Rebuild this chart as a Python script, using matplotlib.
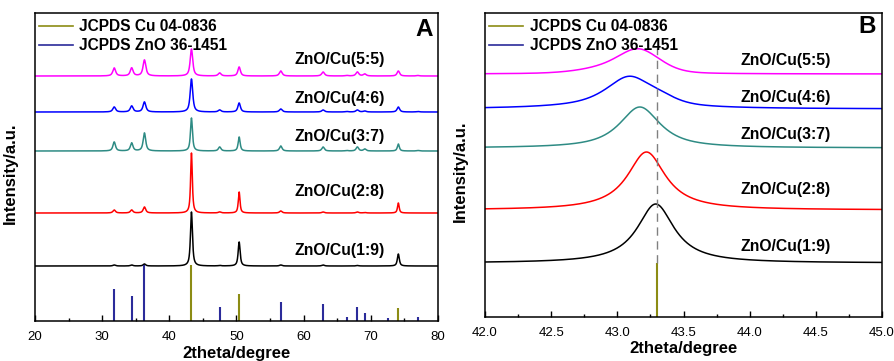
import numpy as np
import matplotlib
matplotlib.use("Agg")
import matplotlib.pyplot as plt
from matplotlib.lines import Line2D
from matplotlib.ticker import MultipleLocator

plt.rcParams['font.family'] = ['Liberation Sans', 'DejaVu Sans']

# ---------------- data ----------------
samples = ["ZnO/Cu(1:9)", "ZnO/Cu(2:8)", "ZnO/Cu(3:7)", "ZnO/Cu(4:6)", "ZnO/Cu(5:5)"]
colors = ["#000000", "#ff0000", "#2e8b84", "#0000ff", "#ff00ff"]

# Panel A: vertical offsets (a.u.)
offsets_a = [55, 108, 170, 209, 245]
# Reflection positions (2theta)
cu_pos = [43.3, 50.4, 74.1]
zno_pos = [31.8, 34.4, 36.3, 47.5, 56.6, 62.9, 66.4, 68.0, 69.1, 72.6, 77.0]
# Reference stick heights (JCPDS)
cu_ref = [56, 27, 13]
zno_ref = [32, 25, 56, 14, 19, 17, 4, 14, 8, 3, 4]
# Measured peak heights per sample (Cu peaks, ZnO peaks)
cu_peak_1_9 = [54, 24, 12]
cu_peak_2_8 = [60, 21, 10]
cu_peak_3_7 = [33, 14, 7]
cu_peak_4_6 = [33, 9, 5]
cu_peak_5_5 = [27, 9, 5]
zno_peak_1_9 = [1, 1, 2, 0.5, 1, 1, 0, 0.5, 0, 0, 0]
zno_peak_2_8 = [3, 3, 6, 1, 2, 1, 0, 1, 0.5, 0, 0]
zno_peak_3_7 = [9, 8, 18, 4, 5, 4, 0.5, 4, 2, 0, 0.5]
zno_peak_4_6 = [5, 6, 10, 2, 3, 2, 0.5, 2, 1, 0, 0.5]
zno_peak_5_5 = [8, 8, 16, 3, 5, 4, 0.5, 4, 2, 0, 0.5]
cu_peaks = [cu_peak_1_9, cu_peak_2_8, cu_peak_3_7, cu_peak_4_6, cu_peak_5_5]
zno_peaks = [zno_peak_1_9, zno_peak_2_8, zno_peak_3_7, zno_peak_4_6, zno_peak_5_5]
cu_fwhm = [0.35, 0.3, 0.35, 0.45, 0.45]
zno_fwhm = [0.45, 0.45, 0.45, 0.5, 0.5]

# Panel B: Cu(111) region
offsets_b = [54, 107, 169, 208, 243]
# components: (center, height, fwhm, lorentz fraction)
comp_1_9 = [(43.29, 59, 0.34, 1.0)]
comp_2_8 = [(43.22, 58, 0.35, 1.0)]
comp_3_7 = [(43.17, 41, 0.37, 0.9)]
comp_4_6 = [(43.09, 28, 0.40, 0.7), (42.95, 4, 0.9, 1.0), (43.33, 5, 0.3, 0.5)]
comp_5_5 = [(43.16, 24, 0.38, 0.3), (42.85, 4, 0.45, 0.5)]
comps_b = [comp_1_9, comp_2_8, comp_3_7, comp_4_6, comp_5_5]
cu111_pos = 43.3
cu111_ref = 54
dash_top = 269


def pv(x, c, h, w, eta):
    g = np.exp(-4 * np.log(2) * (x - c) ** 2 / w ** 2)
    l = 1.0 / (1 + (2 * (x - c) / w) ** 2)
    return h * (eta * l + (1 - eta) * g)


fig = plt.figure(figsize=(8.94, 3.61), dpi=100)
axA = fig.add_axes([0.0391, 0.1108, 0.4508, 0.8532])
axB = fig.add_axes([0.5425, 0.1219, 0.4441, 0.8421])

cu_col = "#8c8c14"
zno_col = "#2b2b9a"
bold = dict(fontweight="bold")

# ---- Panel A ----
xa = np.linspace(20, 80, 6000)
for i in range(5):
    y = np.full_like(xa, offsets_a[i], dtype=float)
    for p, h in zip(cu_pos, cu_peaks[i]):
        y += pv(xa, p, h, cu_fwhm[i], 0.8)
    for p, h in zip(zno_pos, zno_peaks[i]):
        y += pv(xa, p, h, zno_fwhm[i], 0.8)
    axA.plot(xa, y, color=colors[i], lw=1.1)
axA.vlines(zno_pos, 0, zno_ref, color=zno_col, lw=1.5)
axA.vlines(cu_pos, 0, cu_ref, color=cu_col, lw=1.5)
lab_y_a = [71, 129, 184, 222, 261]
for i in range(5):
    axA.text(65.4, lab_y_a[i], samples[i], ha="center", va="center", fontsize=11.3, **bold)
axA.set_xlim(20, 80)
axA.set_ylim(0, 308)
axA.xaxis.set_major_locator(MultipleLocator(10))
axA.xaxis.set_minor_locator(MultipleLocator(5))
axA.text(0.987, 0.948, "A", transform=axA.transAxes, ha="right", va="center", fontsize=17.5, **bold)

# ---- Panel B ----
xb = np.linspace(42, 45, 3000)
for i in range(5):
    y = np.full_like(xb, offsets_b[i], dtype=float)
    for (c, h, w, eta) in comps_b[i]:
        y += pv(xb, c, h, w, eta)
    axB.plot(xb, y, color=colors[i], lw=1.1)
axB.vlines([cu111_pos], 0, [cu111_ref], color=cu_col, lw=1.5)
axB.vlines([cu111_pos], cu111_ref, dash_top, color="#808080", lw=1.0, linestyles=(0, (6, 4)))
lab_y_b = [70, 127, 182, 219, 256]
for i in range(5):
    axB.text(44.27, lab_y_b[i], samples[i], ha="center", va="center", fontsize=11.3, **bold)
axB.set_xlim(42, 45)
axB.set_ylim(0, 304)
axB.xaxis.set_major_locator(MultipleLocator(0.5))
axB.xaxis.set_minor_locator(MultipleLocator(0.25))
axB.xaxis.set_major_formatter(matplotlib.ticker.FormatStrFormatter("%.1f"))
axB.text(0.985, 0.955, "B", transform=axB.transAxes, ha="right", va="center", fontsize=17.5, **bold)

handles = [Line2D([], [], color=cu_col, lw=1.2), Line2D([], [], color=zno_col, lw=1.2)]
labels = ["JCPDS Cu 04-0836", "JCPDS ZnO 36-1451"]
for ax in (axA, axB):
    ax.legend(handles, labels, loc="upper left", frameon=False, bbox_to_anchor=(-0.025, 1.025),
              handlelength=2.2, handletextpad=0.4, labelspacing=0.25,
              prop=dict(weight="bold", size=11.2))
    ax.set_yticks([])
    ax.tick_params(axis="x", which="major", direction="in", length=4, width=1, labelsize=9.5, pad=7)
    ax.tick_params(axis="x", which="minor", direction="in", length=2.5, width=1)
    ax.set_xlabel("2theta/degree", fontsize=12, fontweight="bold", labelpad=2)
    ax.set_ylabel("Intensity/a.u.", fontsize=12, fontweight="bold")
    ax.yaxis.set_label_coords(-0.043, 0.48)
    for s in ax.spines.values():
        s.set_linewidth(1.1)

fig.savefig("out.png", dpi=100)
